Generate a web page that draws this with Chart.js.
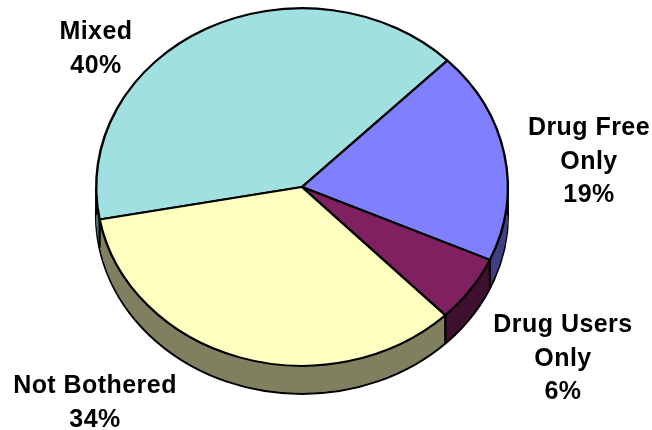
<!DOCTYPE html>
<html>
<head>
<meta charset="utf-8">
<script src="https://cdn.jsdelivr.net/npm/chart.js@4.4.1/dist/chart.umd.min.js"></script>
<style>
  html, body { margin: 0; padding: 0; background: #ffffff; }
  #wrap { width: 652px; height: 430px; }
</style>
</head>
<body>
<div id="wrap"><canvas id="chart" width="652" height="430"></canvas></div>
<script>
// Survey answers, each category split into the lines it is printed on
const categories = [['Mixed'], ['Drug Free', 'Only'], ['Drug Users', 'Only'], ['Not Bothered']];
const shares = [40, 19, 6, 34];

const faceColors = ['#A0E0E0', '#8080FF', '#802060', '#FFFFC0'];
const sideColors = ['#507070', '#404080', '#401030', '#808060'];

// Where each label block sits: centre x and baseline of its first line
const labelAnchors = [[96, 39], [589, 135], [563, 332], [95, 393]];

// Tilted-disc look: vertical squash, visible rim height and where the top face is centred
const view = { tilt: 179 / 206, depth: 28, centerY: 187 };

const pie3d = {
  id: 'pie3d',
  beforeDatasetsDraw(chart) {
    const ctx = chart.ctx;
    const arcs = chart.getDatasetMeta(0).data;
    const cx = arcs[0].x, cy = arcs[0].y, r = arcs[0].outerRadius;
    const squash = () => {
      ctx.translate(0, view.centerY);
      ctx.scale(1, view.tilt);
      ctx.translate(0, -cy);
    };

    // Rim: stacked copies of the slices, darker, lowest first
    for (let d = view.depth; d >= 1; d--) {
      ctx.save();
      ctx.translate(0, d);
      squash();
      arcs.forEach((a, i) => {
        ctx.beginPath();
        ctx.moveTo(a.x, a.y);
        ctx.arc(a.x, a.y, a.outerRadius, a.startAngle, a.endAngle);
        ctx.closePath();
        ctx.fillStyle = sideColors[i];
        ctx.fill();
      });
      if (d === view.depth) {
        ctx.beginPath();
        ctx.arc(cx, cy, r, 0, Math.PI * 2);
        ctx.lineWidth = 2.6;
        ctx.strokeStyle = '#000';
        ctx.stroke();
      }
      ctx.restore();
    }

    // Vertical rim edges: silhouette sides and slice boundaries on the near half
    const edges = [0, Math.PI];
    arcs.forEach(a => edges.push(a.startAngle));
    ctx.save();
    ctx.strokeStyle = '#000';
    ctx.lineWidth = 2.2;
    edges.forEach(t => {
      const s = Math.sin(t);
      if (s < -1e-6) return;
      const x = cx + r * Math.cos(t);
      const y = view.centerY + view.tilt * r * s;
      ctx.beginPath();
      ctx.moveTo(x, y);
      ctx.lineTo(x, y + view.depth);
      ctx.stroke();
    });
    ctx.restore();

    // Top face is drawn by the chart itself inside the squashed space
    ctx.save();
    squash();
  },
  afterDatasetsDraw(chart) {
    chart.ctx.restore();
  },
  afterDraw(chart) {
    const ctx = chart.ctx;
    ctx.save();
    ctx.font = 'bold 25px "Liberation Sans", Arial, sans-serif';
    ctx.letterSpacing = '0.45px';
    ctx.textAlign = 'center';
    ctx.textBaseline = 'alphabetic';
    ctx.fillStyle = '#000';
    const lineH = 33.5;
    chart.data.labels.forEach((lines, i) => {
      const rows = lines.concat([chart.data.datasets[0].data[i] + '%']);
      const [x, y] = labelAnchors[i];
      rows.forEach((t, k) => ctx.fillText(t, x, y + k * lineH));
    });
    ctx.restore();
  }
};

new Chart(document.getElementById('chart'), {
  type: 'pie',
  data: {
    labels: categories,
    datasets: [{
      data: shares,
      backgroundColor: faceColors,
      borderColor: '#000000',
      borderWidth: 2.4,
      clip: false
    }]
  },
  options: {
    responsive: false,
    animation: false,
    rotation: 259.5,
    layout: { padding: { left: 95, right: 143, top: 0, bottom: 16 } },
    plugins: {
      legend: { display: false },
      tooltip: { enabled: false }
    }
  },
  plugins: [pie3d]
});
</script>
</body>
</html>
